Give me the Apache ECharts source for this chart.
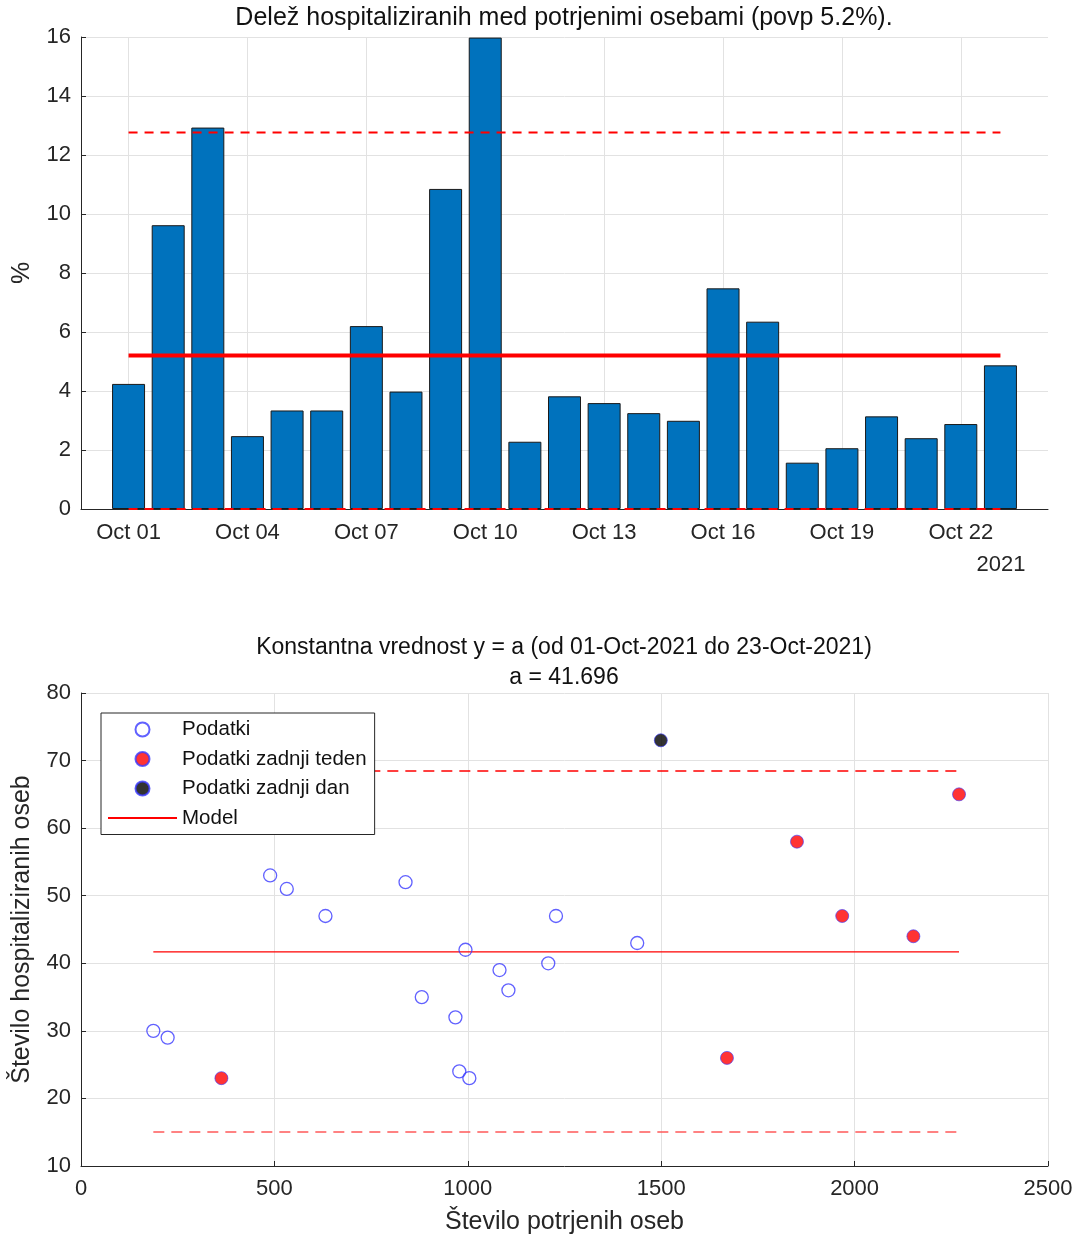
<!DOCTYPE html>
<html><head><meta charset="utf-8">
<script src="https://cdn.jsdelivr.net/npm/echarts@6/dist/echarts.min.js"></script>
<style>html,body{margin:0;padding:0;background:#fff}#c{width:1077px;height:1241px}</style>
</head><body><div id="c"></div>
<script>
// ---- top chart data ----
const days = ['Oct 01','Oct 02','Oct 03','Oct 04','Oct 05','Oct 06','Oct 07','Oct 08','Oct 09','Oct 10','Oct 11','Oct 12','Oct 13','Oct 14','Oct 15','Oct 16','Oct 17','Oct 18','Oct 19','Oct 20','Oct 21','Oct 22','Oct 23'];
const tickDayIdx = [0,3,6,9,12,15,18,21];
const sharePct = [4.24,9.62,12.93,2.47,3.34,3.34,6.20,3.98,10.85,15.98,2.28,3.82,3.59,3.25,2.99,7.48,6.35,1.57,2.06,3.14,2.40,2.88,4.87];
const shareMean = 5.2;
const shareUpper = 12.76;
const shareLower = 0;
const yearLabel = '2021';

// ---- bottom chart data ----
const oldConfirmed = [187,224,489,532,632,839,881,968,978,994,1004,1082,1105,1208,1228,1438];
const oldHosp      = [30, 29, 53, 51, 47, 52, 35, 32, 24, 42, 23, 39, 36, 40, 47, 43];
const weekConfirmed = [363,1670,2152,1851,1968,2270];
const weekHosp      = [23, 26, 44, 58, 47, 65];
const lastConfirmed = [1499];
const lastHosp      = [73];
const modelA = 41.696;
const modelUpper = 68.46;
const modelLower = 15.03;

const allX = oldConfirmed.concat(weekConfirmed, lastConfirmed);
const xMinData = Math.min(...allX), xMaxData = Math.max(...allX);
const zip = (a,b) => a.map((v,i)=>[v,b[i]]);

const FONT = '"Liberation Sans", Arial, Helvetica, sans-serif';
const AX = '#262626', GRID = '#e2e2e2';
const TICK = 22;

const chart = echarts.init(document.getElementById('c'));
chart.setOption({
  animation: false,
  textStyle: {fontFamily: FONT},
  grid: [
    {left: 81, top: 37, width: 967, height: 472},
    {left: 81, top: 693, width: 967, height: 473}
  ],
  xAxis: [
    {gridIndex: 0, type: 'value', min: -1.2, max: 23.2,
     axisLine: {show: true, onZero: false, lineStyle: {color: AX, width: 1}},
     axisTick: {show: true, inside: true, length: 5, customValues: tickDayIdx, lineStyle: {color: AX}},
     axisLabel: {customValues: tickDayIdx, formatter: v => days[Math.round(v)] || '', fontSize: TICK, color: AX, margin: 13},
     splitLine: {show: true, lineStyle: {color: GRID}}},
    {gridIndex: 1, type: 'value', min: 0, max: 2500, interval: 500,
     name: 'Število potrjenih oseb', nameLocation: 'middle', nameGap: 44,
     nameTextStyle: {fontSize: 25, color: AX},
     axisLine: {show: true, onZero: false, lineStyle: {color: AX}},
     axisTick: {show: true, inside: true, length: 5, lineStyle: {color: AX}},
     axisLabel: {fontSize: TICK, color: AX, margin: 12, formatter: v => String(v)},
     splitLine: {show: true, lineStyle: {color: GRID}}}
  ],
  yAxis: [
    {gridIndex: 0, type: 'value', min: 0, max: 16, interval: 2,
     name: '%', nameLocation: 'middle', nameGap: 46, nameTextStyle: {fontSize: 25, color: AX},
     axisLine: {show: true, onZero: false, lineStyle: {color: AX}},
     axisTick: {show: true, inside: true, length: 5, lineStyle: {color: AX}},
     axisLabel: {fontSize: TICK, color: AX, margin: 10},
     splitLine: {show: true, lineStyle: {color: GRID}}},
    {gridIndex: 1, type: 'value', min: 10, max: 80, interval: 10,
     name: 'Število hospitaliziranih oseb', nameLocation: 'middle', nameGap: 46, nameTextStyle: {fontSize: 25, color: AX},
     axisLine: {show: true, onZero: false, lineStyle: {color: AX}},
     axisTick: {show: true, inside: true, length: 5, lineStyle: {color: AX}},
     axisLabel: {fontSize: TICK, color: AX, margin: 10},
     splitLine: {show: true, lineStyle: {color: GRID}}}
  ],
  legend: {
    left: 101, top: 713, orient: 'vertical',
    data: ['Podatki','Podatki zadnji teden','Podatki zadnji dan',{name: 'Model', itemStyle: {opacity: 0}}],
    itemWidth: 69, itemHeight: 14, itemGap: 8.5,
    padding: [6, 8, 6, 6],
    backgroundColor: '#fff', borderColor: AX, borderWidth: 1, borderRadius: 0,
    textStyle: {fontSize: 20.5, color: '#111'}
  },
  graphic: [
    {type: 'text', x: 564, y: 18, style: {text: 'Delež hospitaliziranih med potrjenimi osebami (povp 5.2%).', fill: '#111', font: '25px ' + FONT, align: 'center', verticalAlign: 'middle'}},
    {type: 'text', x: 1001, y: 565, style: {text: yearLabel, fill: AX, font: TICK + 'px ' + FONT, align: 'center', verticalAlign: 'middle'}},
    {type: 'text', x: 564, y: 648, style: {text: 'Konstantna vrednost y = a (od 01-Oct-2021 do 23-Oct-2021)', fill: '#111', font: '23px ' + FONT, align: 'center', verticalAlign: 'middle'}},
    {type: 'text', x: 564, y: 678, style: {text: 'a = 41.696', fill: '#111', font: '23px ' + FONT, align: 'center', verticalAlign: 'middle'}}
  ],
  series: [
    {type: 'bar', xAxisIndex: 0, yAxisIndex: 0, barWidth: 33,
     data: sharePct.map((v,i)=>[i,v]),
     itemStyle: {color: '#0072BD', borderColor: '#1a1a1a', borderWidth: 1}},
    {type: 'line', xAxisIndex: 0, yAxisIndex: 0, symbol: 'none', clip: false, z: 5,
     data: [[0, shareMean],[days.length-1, shareMean]], lineStyle: {color: '#ff0000', width: 4}},
    {type: 'line', xAxisIndex: 0, yAxisIndex: 0, symbol: 'none', clip: false, z: 5,
     data: [[0, shareUpper],[days.length-1, shareUpper]], lineStyle: {color: '#ff0000', width: 2, type: [9,7]}},
    {type: 'line', xAxisIndex: 0, yAxisIndex: 0, symbol: 'none', clip: false, z: 5,
     data: [[0, shareLower],[days.length-1, shareLower]], lineStyle: {color: '#ff0000', width: 2, type: [9,7]}},

    {name: 'Model', type: 'line', xAxisIndex: 1, yAxisIndex: 1, symbol: 'none', z: 3,
     data: [[xMinData, modelA],[xMaxData, modelA]], lineStyle: {color: '#ff0000', width: 1.2}, itemStyle: {color: '#ff0000'}},
    {type: 'line', xAxisIndex: 1, yAxisIndex: 1, symbol: 'none', z: 3,
     data: [[xMinData, modelUpper],[xMaxData, modelUpper]], lineStyle: {color: '#ff0000', width: 1.3, type: [11,7]}},
    {type: 'line', xAxisIndex: 1, yAxisIndex: 1, symbol: 'none', z: 3,
     data: [[xMinData, modelLower],[xMaxData, modelLower]], lineStyle: {color: '#ff5a5a', width: 1.5, type: [11,7]}},
    {name: 'Podatki', type: 'scatter', xAxisIndex: 1, yAxisIndex: 1, symbol: 'circle', symbolSize: 13, z: 4,
     data: zip(oldConfirmed, oldHosp),
     itemStyle: {color: 'rgba(255,255,255,0)', borderColor: '#3a3aff', borderWidth: 1.3}},
    {name: 'Podatki zadnji teden', type: 'scatter', xAxisIndex: 1, yAxisIndex: 1, symbol: 'circle', symbolSize: 13, z: 4,
     data: zip(weekConfirmed, weekHosp),
     itemStyle: {color: '#ff0000', borderColor: '#3a3aff', borderWidth: 0.8}},
    {name: 'Podatki zadnji dan', type: 'scatter', xAxisIndex: 1, yAxisIndex: 1, symbol: 'circle', symbolSize: 13, z: 4,
     data: zip(lastConfirmed, lastHosp),
     itemStyle: {color: '#000000', borderColor: '#3a3aff', borderWidth: 0.8}}
  ]
});
</script></body></html>
